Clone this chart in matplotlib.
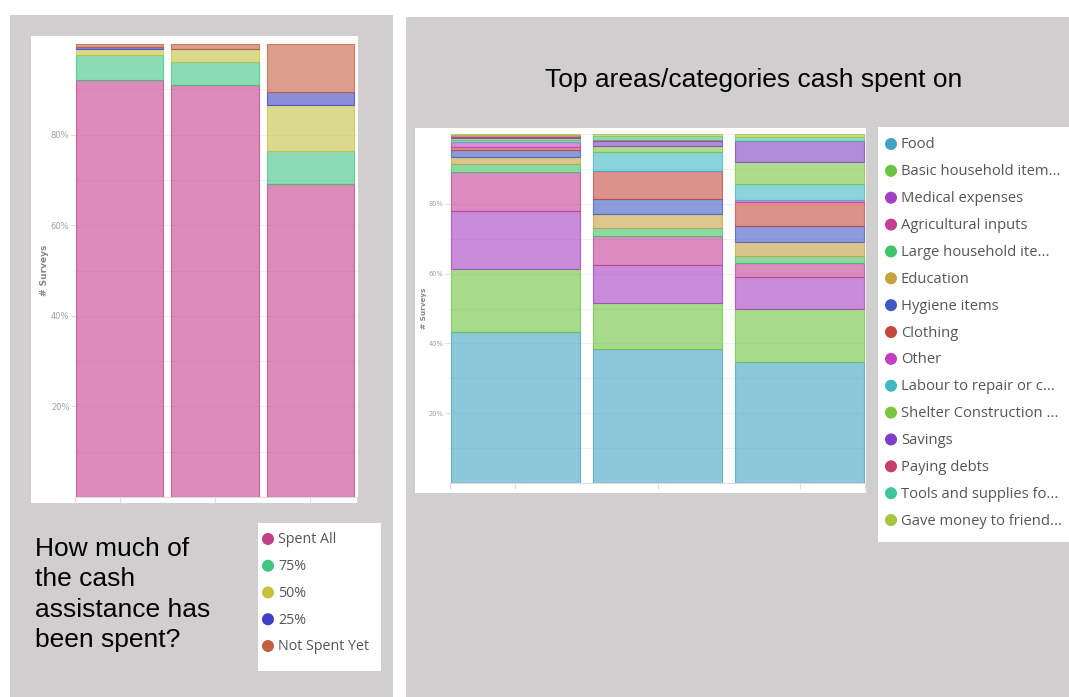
import matplotlib
matplotlib.use("Agg")
import matplotlib.pyplot as plt
from matplotlib.patches import Rectangle
import numpy as np

W, H = 1069, 697

# --- data: how much of the cash has been spent (left chart) ---
spent_groups = ["A", "B", "C"]
spent_labels = ["Spent All", "75%", "50%", "25%", "Not Spent Yet"]
spent_colors = ["#C43F8A", "#3FC482", "#C4C23F", "#3F3FC4", "#C4603F"]
spent_all = [92.0, 90.9, 69.0]
spent_75 = [5.5, 5.1, 7.4]
spent_50 = [1.4, 2.9, 10.1]
spent_25 = [0.4, 0.0, 2.9]
not_spent = [0.7, 1.1, 10.6]

# --- data: categories cash spent on (right chart) ---
cat_groups = ["A", "B", "C"]
cat_labels = ["Food", "Basic household item...", "Medical expenses",
              "Agricultural inputs", "Large household ite...", "Education",
              "Hygiene items", "Clothing", "Other", "Labour to repair or c...",
              "Shelter Construction ...", "Savings", "Paying debts",
              "Tools and supplies fo...", "Gave money to friend..."]
cat_colors = ["#3FA3C4", "#6BC43F", "#A53FC4", "#C43F96", "#3FC46A",
              "#C4A33F", "#3F58C4", "#C4483F", "#C43FC4", "#3FB8C4",
              "#7EC43F", "#7F3FC4", "#C43F6A", "#3FC49E", "#A6C43F"]
food = [43.4, 38.5, 34.8]
basic_household = [17.8, 13.2, 15.1]
medical = [16.7, 10.7, 9.0]
agricultural = [11.2, 8.3, 4.2]
large_household = [2.3, 2.3, 2.0]
education = [1.9, 4.2, 4.0]
hygiene = [2.1, 4.1, 4.5]
clothing = [0.9, 8.0, 6.9]
other = [1.5, 0.0, 0.5]
labour = [0.4, 5.5, 4.6]
shelter = [0.7, 1.7, 6.3]
savings = [0.3, 1.4, 6.0]
paying_debts = [0.4, 0.4, 0.1]
tools = [0.2, 1.1, 1.1]
gave_money = [0.2, 0.6, 0.9]

spent_series = [spent_all, spent_75, spent_50, spent_25, not_spent]
cat_series = [food, basic_household, medical, agricultural, large_household,
              education, hygiene, clothing, other, labour, shelter, savings,
              paying_debts, tools, gave_money]

GRAY = "#D0CECE"


def px_rect(x0, y0, x1, y1):
    # pixel box (top-left origin) -> figure fraction [l, b, w, h]
    return [x0 / W, 1 - y1 / H, (x1 - x0) / W, (y1 - y0) / H]


def fig_box(fig, x0, y0, x1, y1, color):
    l, b, w, h = px_rect(x0, y0, x1, y1)
    fig.patches.append(Rectangle((l, b), w, h, transform=fig.transFigure,
                                 facecolor=color, edgecolor="none", zorder=-5))


def stacked(ax, series, colors, width, tick_fs):
    x = np.arange(len(series[0]))
    bottom = np.zeros(len(x))
    for vals, c in zip(series, colors):
        vals = np.array(vals)
        ax.bar(x, vals, width=width, bottom=bottom,
               facecolor=matplotlib.colors.to_rgba(c, 0.6),
               edgecolor=matplotlib.colors.to_rgba(c, 0.75), linewidth=0.8,
               zorder=3)
        bottom += vals
    ax.set_ylim(0, 100)
    ax.set_yticks([20, 40, 60, 80])
    ax.set_yticklabels(["20%", "40%", "60%", "80%"], fontsize=tick_fs,
                       color="#A0A0A0")
    ax.set_yticks(np.arange(0, 101, 10), minor=True)
    ax.grid(axis="y", which="both", color="#F0F0F0", linewidth=0.8, zorder=0)
    ax.tick_params(axis="y", which="major", length=3, color="#DDDDDD", pad=1)
    ax.tick_params(axis="y", which="minor", length=0)
    for s in ["top", "right", "left"]:
        ax.spines[s].set_visible(False)
    ax.spines["bottom"].set_color("#DDDDDD")
    ax.set_facecolor("white")


def legend_box(fig, x0, y0, x1, y1, labels, colors, mx, my0, dy, fs):
    ax = fig.add_axes(px_rect(x0, y0, x1, y1))
    ax.set_xlim(x0, x1)
    ax.set_ylim(y1, y0)
    ax.axis("off")
    ax.add_patch(Rectangle((x0, y0), x1 - x0, y1 - y0, facecolor="white",
                           edgecolor="none"))
    for i, (lab, c) in enumerate(zip(labels, colors)):
        y = my0 + i * dy
        ax.scatter([mx], [y], s=75, color=c, edgecolors="none")
        ax.text(mx + 10, y + 1, lab, fontsize=fs, color="#555555",
                va="center", ha="left", family="Open Sans")


fig = plt.figure(figsize=(W / 100, H / 100), dpi=100)
fig.patch.set_facecolor("white")

# gray panels and white chart areas
fig_box(fig, 10, 15, 393, H, GRAY)
fig_box(fig, 406, 17, W, H, GRAY)
fig_box(fig, 31, 36, 358, 503, "white")
fig_box(fig, 415, 128, 866, 493, "white")

# left chart
ax1 = fig.add_axes(px_rect(75, 44, 357, 497))
stacked(ax1, spent_series, spent_colors, 0.916, 6)
ax1.set_xlim(-0.47, 2.49)
ax1.set_xticks([-0.47, 0, 1, 2, 2.49])
ax1.set_xticklabels([])
ax1.tick_params(axis="x", length=4, color="#DDDDDD")
ax1.set_ylabel("# Surveys", fontsize=6.5, color="#888888",
               fontweight="bold", labelpad=1)

# right chart
ax2 = fig.add_axes(px_rect(449, 134, 866, 483))
stacked(ax2, cat_series, cat_colors, 0.908, 4.8)
ax2.set_xlim(-0.468, 2.468)
ax2.set_xticks([-0.46, 0, 1, 2, 2.46])
ax2.set_xticklabels([])
ax2.tick_params(axis="x", length=4, color="#DDDDDD")
ax2.set_ylabel("# Surveys", fontsize=5.2, color="#888888",
               fontweight="bold", labelpad=1)

# legends
legend_box(fig, 258, 523, 381, 671, spent_labels, spent_colors,
           268, 539, 26.75, 10.3)
legend_box(fig, 878, 127, W, 542, cat_labels, cat_colors,
           891, 144, 26.86, 10.6)

# texts
fig.text(35 / W, 1 - 537 / H, "How much of\nthe cash\nassistance has\nbeen spent?",
         fontsize=19, family="Liberation Sans", color="black",
         va="top", ha="left", linespacing=1.34)
fig.text(754 / W, 1 - 80 / H, "Top areas/categories cash spent on",
         fontsize=19, family="Liberation Sans", color="black",
         va="center", ha="center")

fig.savefig("out.png", dpi=100)
